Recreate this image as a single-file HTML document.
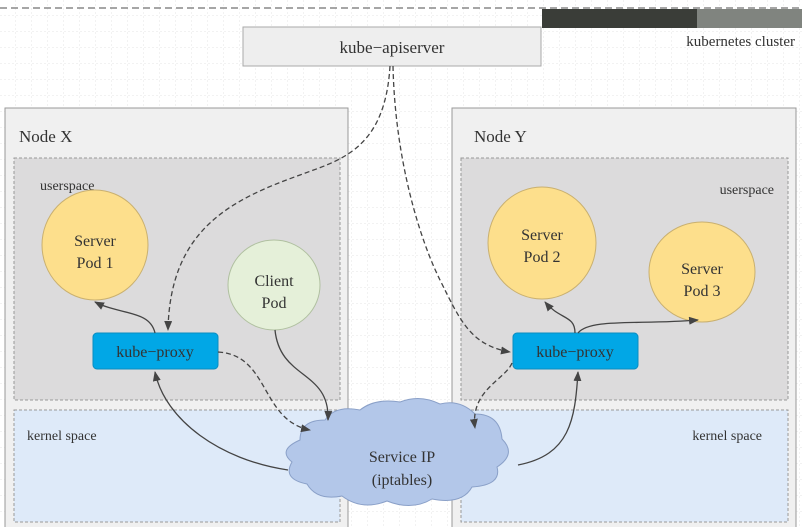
<!DOCTYPE html>
<html><head><style>
body{margin:0;width:802px;height:527px;overflow:hidden;background:#fff;}
svg text{font-family:"Liberation Serif",serif;fill:#333;}
</style></head><body>
<svg width="802" height="527" viewBox="0 0 802 527" xmlns="http://www.w3.org/2000/svg">
<defs>
<pattern id="g" width="16" height="16" patternUnits="userSpaceOnUse">
<path d="M16 0V16M0 16H16" stroke="#e6e6e6" stroke-width="1" stroke-dasharray="2,2" fill="none"/>
</pattern>
<marker id="a" markerWidth="10" markerHeight="8" refX="9" refY="4" orient="auto" markerUnits="userSpaceOnUse">
<path d="M0 0L10 4L0 8z" fill="#444"/>
</marker>
</defs>
<rect width="802" height="527" fill="url(#g)"/>
<line x1="0" y1="8" x2="802" y2="8" stroke="#888" stroke-width="1.5" stroke-dasharray="7,4"/>
<rect x="542" y="9" width="155" height="19" fill="#3a3d38"/>
<rect x="697" y="9" width="105" height="19" fill="#80847f"/>
<text x="795" y="46" font-size="15" text-anchor="end">kubernetes cluster</text>
<rect x="243" y="27" width="298" height="39" fill="#eeeeee" stroke="#aaa"/>
<text x="392" y="53" font-size="17" text-anchor="middle">kube−apiserver</text>

<rect x="5" y="108" width="343" height="425" fill="#f0f0f0" stroke="#999"/>
<rect x="452" y="108" width="344" height="425" fill="#f0f0f0" stroke="#999"/>
<text x="19" y="142" font-size="17">Node X</text>
<text x="474" y="142" font-size="17">Node Y</text>

<rect x="14" y="158" width="326" height="242" fill="#dcdbdc" stroke="#999" stroke-dasharray="3,2"/>
<rect x="14" y="410" width="326" height="112" fill="#deeaf9" stroke="#999" stroke-dasharray="3,2"/>
<rect x="461" y="158" width="327" height="242" fill="#dcdbdc" stroke="#999" stroke-dasharray="3,2"/>
<rect x="461" y="410" width="327" height="112" fill="#deeaf9" stroke="#999" stroke-dasharray="3,2"/>
<text x="40" y="190" font-size="14">userspace</text>
<text x="774" y="194" font-size="14" text-anchor="end">userspace</text>
<text x="27" y="440" font-size="14">kernel space</text>
<text x="762" y="440" font-size="14" text-anchor="end">kernel space</text>

<ellipse cx="95" cy="245" rx="53" ry="55" fill="#fddf8c" stroke="#c9b070"/>
<text x="95" y="246" font-size="16" text-anchor="middle">Server</text>
<text x="95" y="268" font-size="16" text-anchor="middle">Pod 1</text>
<ellipse cx="274" cy="285" rx="46" ry="45" fill="#e5f0d9" stroke="#b0c0a0"/>
<text x="274" y="286" font-size="16" text-anchor="middle">Client</text>
<text x="274" y="308" font-size="16" text-anchor="middle">Pod</text>
<ellipse cx="542" cy="243" rx="54" ry="56" fill="#fddf8c" stroke="#c9b070"/>
<text x="542" y="240" font-size="16" text-anchor="middle">Server</text>
<text x="542" y="262" font-size="16" text-anchor="middle">Pod 2</text>
<ellipse cx="702" cy="272" rx="53" ry="50" fill="#fddf8c" stroke="#c9b070"/>
<text x="702" y="274" font-size="16" text-anchor="middle">Server</text>
<text x="702" y="296" font-size="16" text-anchor="middle">Pod 3</text>

<rect x="93" y="333" width="125" height="36" rx="4" fill="#01a7e6" stroke="#0a8cc0"/>
<text x="155" y="357" font-size="16" text-anchor="middle">kube−proxy</text>
<rect x="513" y="333" width="125" height="36" rx="4" fill="#01a7e6" stroke="#0a8cc0"/>
<text x="575" y="357" font-size="16" text-anchor="middle">kube−proxy</text>

<path d="M300 440 q0-20 25-20 q10-15 35-10 q15-12 40-8 q20-8 40 2 q20-5 35 10 q25 0 27 25 q15 15-5 28 q5 18-25 20 q-10 18-40 12 q-20 12-45 2 q-25 10-45-5 q-25 5-35-12 q-25-5-15-22 q-15-12 8-22z" fill="#b3c7e9" stroke="#8aa0c8"/>
<text x="402" y="462" font-size="16" text-anchor="middle">Service IP</text>
<text x="402" y="485" font-size="16" text-anchor="middle">(iptables)</text>

<g fill="none" stroke="#444" stroke-width="1.3">
<path d="M390 66 C385 150 340 160 300 175 C230 200 170 230 168 330" stroke-dasharray="5,3" marker-end="url(#a)"/>
<path d="M393 66 C395 160 420 240 440 280 C460 320 470 345 510 352" stroke-dasharray="5,3" marker-end="url(#a)"/>
<path d="M155 333 C150 310 120 315 95 302" marker-end="url(#a)"/>
<path d="M218 352 C270 355 260 420 310 430" stroke-dasharray="5,3" marker-end="url(#a)"/>
<path d="M275 330 C280 380 330 370 328 420" marker-end="url(#a)"/>
<path d="M288 470 C220 460 165 420 155 372" marker-end="url(#a)"/>
<path d="M575 333 C575 315 560 320 545 302" marker-end="url(#a)"/>
<path d="M578 333 C590 318 640 325 698 320" marker-end="url(#a)"/>
<path d="M512 363 C505 380 470 390 475 428" stroke-dasharray="5,3" marker-end="url(#a)"/>
<path d="M518 465 C570 455 575 420 578 372" marker-end="url(#a)"/>
</g>
</svg>
</body></html>
